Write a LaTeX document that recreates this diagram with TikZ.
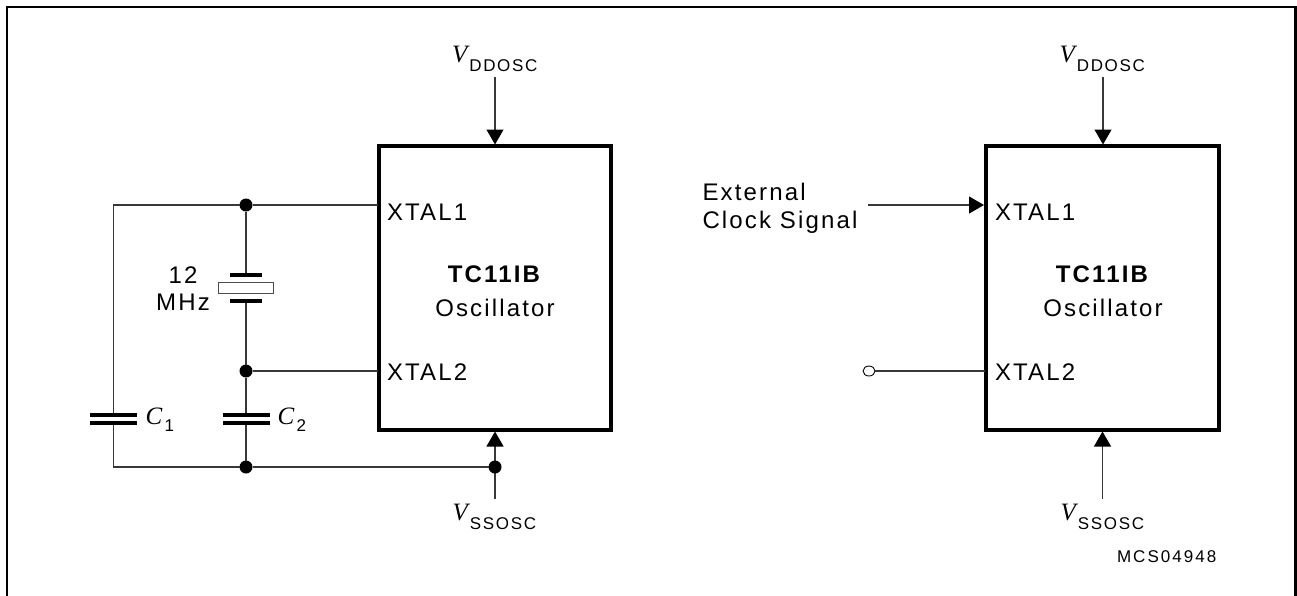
\documentclass[tikz,border=0pt]{standalone}
\usepackage{fontspec}
\setmainfont{Liberation Sans}
\newfontfamily\lblfont[LetterSpace=9]{Liberation Sans}
\newfontfamily\smfont[LetterSpace=10]{Liberation Sans}
\newfontfamily\codefont[LetterSpace=12]{Liberation Sans}
\newfontfamily\mathfont{Liberation Serif}
\usetikzlibrary{arrows.meta,shapes.geometric}
\newcommand{\Vsym}[1]{{\fontsize{25}{25}\selectfont\mathfont\itshape V}\hspace{2pt}\raisebox{-9pt}{\fontsize{17}{17}\selectfont\smfont #1}}
\newcommand{\Csym}[1]{{\fontsize{25}{25}\selectfont\mathfont\itshape C}\hspace{2.5pt}\raisebox{-7.5pt}{\fontsize{17}{17}\selectfont\smfont #1}}
\tikzset{
  every node/.style={outer sep=0pt},
  x=1pt,y=-1pt,
  wire/.style={line width=1.1pt,draw=black!78},
  arrowwire/.style={wire,-{Triangle[length=15pt,width=17pt,black]}},
  thick box/.style={rectangle,draw=black,line width=4pt,inner sep=0pt,anchor=north west},
  dot/.style={circle,fill=black,draw=none,inner sep=0pt,minimum size=13pt},
  open dot/.style={ellipse,draw=black,line width=0.9pt,fill=white,inner sep=0pt,minimum width=12pt,minimum height=10pt},
  plate/.style={fill=black,draw=none,inner sep=0pt,minimum height=3.6pt},
  xtalbody/.style={rectangle,draw=black!70,line width=1pt,fill=white,inner sep=0pt,minimum width=55pt,minimum height=10.6pt},
  txt/.style={inner sep=0pt,anchor=base west,font=\fontsize{24}{24}\selectfont\lblfont},
  txtc/.style={inner sep=0pt,anchor=base,font=\fontsize{24}{24}\selectfont\lblfont},
  sym/.style={inner sep=0pt,anchor=base west},
}
\begin{document}
\begin{tikzpicture}
\useasboundingbox (0,0) rectangle (1297,595);
\fill[white] (0,0) rectangle (1297,595);
% outer frame (open at the bottom)
\coordinate (fa) at (7,600);
\coordinate (fb) at (7,7);
\coordinate (fc) at (1295.5,7);
\coordinate (fd) at (1295.5,600);
\draw[line width=2.2pt,black] (fa) -- (fb) -- (fc) -- (fd);

% left block
\node[thick box,minimum width=232pt,minimum height=284pt] (boxL) at (378.5,146) {};
\node[txtc] (nameL) at (494,282.7) {\bfseries TC11IB};
\node[txtc] (oscL) at (495,316.7) {Oscillator};
\node[txt] (x1L) at (387,220.7) {XTAL1};
\node[txt] (x2L) at (387,380) {XTAL2};
\node[sym] (vddL) at (452,62) {\Vsym{DDOSC}};
\node[sym] (vssL) at (452.5,520) {\Vsym{SSOSC}};
\coordinate (vddLs) at (495,77);
\coordinate (vddLe) at (495,144.5);
\coordinate (vssLs) at (495,498.5);
\coordinate (vssLe) at (495,431.5);
\draw[arrowwire] (vddLs) -- (vddLe);
\draw[arrowwire] (vssLs) -- (vssLe);

\coordinate (pin1L) at (378,205);
\coordinate (pin2L) at (378,371);
\coordinate (cornTL) at (113.5,205);
\coordinate (cornBL) at (113.5,467);
\node[dot] (j1) at (246,205) {};
\node[dot] (j2) at (246,371) {};
\node[dot] (j3) at (246,467) {};
\node[dot] (j4) at (495,467) {};
\node[plate,minimum width=47pt] (c1a) at (113.5,414.7) {};
\node[plate,minimum width=47pt] (c1b) at (113.5,422.7) {};
\node[plate,minimum width=47pt] (c2a) at (246,414.7) {};
\node[plate,minimum width=47pt] (c2b) at (246,422.7) {};
\draw[wire] (j1) -- (pin1L);
\draw[wire] (j2) -- (pin2L);
\draw[wire] (j1) -- (cornTL) -- (c1a);
\draw[wire] (c1b) -- (cornBL) -- (j3);
\draw[wire] (j3) -- (j4);
\node[plate,minimum width=32pt] (qa) at (246,275) {};
\node[plate,minimum width=32pt] (qb) at (246,300.8) {};
\node[xtalbody] (qbody) at (246,288) {};
\draw[wire] (j1) -- (qa);
\draw[wire] (qb) -- (j2);
\draw[wire] (j2) -- (c2a);
\draw[wire] (c2b) -- (j3);
\node[txtc] (f12) at (183,283) {12};
\node[txtc] (fmhz) at (183,310.7) {MHz};
\node[sym] (c1t) at (145.5,424) {\Csym{1}};
\node[sym] (c2t) at (277.5,424) {\Csym{2}};

% right block
\node[thick box,minimum width=233pt,minimum height=284pt] (boxR) at (985.5,146) {};
\node[txtc] (nameR) at (1102,282.7) {\bfseries TC11IB};
\node[txtc] (oscR) at (1103,316.7) {Oscillator};
\node[txt] (x1R) at (995,220.7) {XTAL1};
\node[txt] (x2R) at (995,380) {XTAL2};
\node[sym] (vddR) at (1059.5,62) {\Vsym{DDOSC}};
\node[sym] (vssR) at (1060.5,520) {\Vsym{SSOSC}};
\coordinate (vddRs) at (1103,77);
\coordinate (vddRe) at (1103,144.5);
\coordinate (vssRs) at (1102.5,499);
\coordinate (vssRe) at (1102.5,431.5);
\draw[arrowwire] (vddRs) -- (vddRe);
\draw[arrowwire] (vssRs) -- (vssRe);
\coordinate (extS) at (868,205);
\coordinate (extE) at (984,205);
\draw[arrowwire] (extS) -- (extE);
\node[txt] (ext1) at (702.5,200) {External};
\node[txt] (ext2) at (702.5,228) {Clock Signal};
\node[open dot] (od) at (869,371) {};
\coordinate (pin2R) at (985,371);
\draw[wire] (od) -- (pin2R);
\node[sym,font=\fontsize{17}{17}\selectfont\codefont] (code) at (1117,562) {MCS04948};
\end{tikzpicture}
\end{document}
